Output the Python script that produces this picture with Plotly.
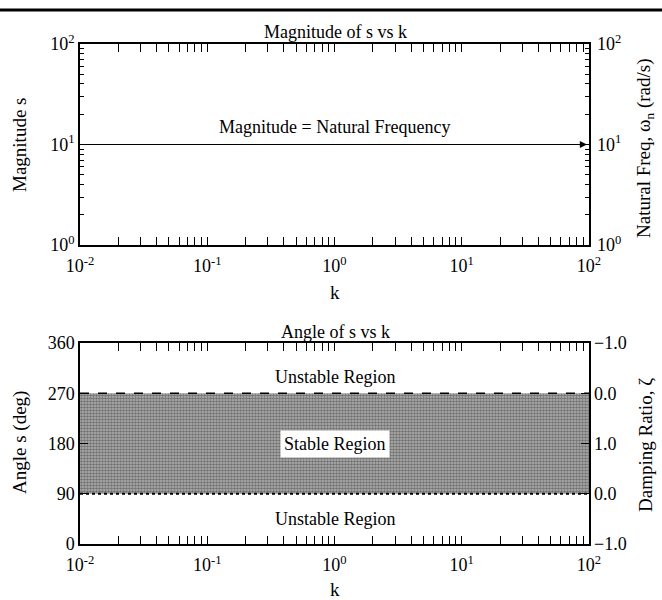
import numpy as np
import plotly.graph_objects as go

# ---- data ----
k_range = [0.01, 100]            # gain k sweep (log scale)
magnitude = [10, 10]             # |s| equals the natural frequency
stable_low = [90, 90]            # angle bounds of the stable region (deg)
stable_high = [270, 270]
mag_ticks = [1, 10, 100]
mag_ticktext = ["10<sup>0</sup>", "10<sup>1</sup>", "10<sup>2</sup>"]
k_ticks = [0.01, 0.1, 1, 10, 100]
k_ticktext = ["10<sup>-2</sup>", "10<sup>-1</sup>", "10<sup>0</sup>", "10<sup>1</sup>", "10<sup>2</sup>"]
angle_ticks = [0, 90, 180, 270, 360]
zeta_ticktext = ["\u22121.0", "0.0", "1.0", "0.0", "\u22121.0"]


def log_minor(lo_exp, hi_exp):
    return [m * 10.0 ** e for e in range(lo_exp, hi_exp) for m in range(2, 10)]


FONT = "Liberation Serif"
fs = 18

fig = go.Figure()

# top panel: magnitude line
fig.add_trace(go.Scatter(x=k_range, y=magnitude, mode="lines",
                         line=dict(color="black", width=1.2),
                         xaxis="x", yaxis="y", showlegend=False))

# bottom panel: shaded stable band
band_x = k_range + k_range[::-1]
band_y = stable_low + stable_high[::-1]
fig.add_trace(go.Scatter(x=band_x, y=band_y, fill="toself", mode="none",
                         fillcolor="rgba(0,0,0,0)",
                         fillpattern=dict(shape=".", fgcolor="#303030", bgcolor="#b4b4b4",
                                          size=3, solidity=0.6),
                         xaxis="x2", yaxis="y3", showlegend=False, hoverinfo="skip"))
fig.add_trace(go.Scatter(x=k_range, y=stable_high, mode="lines",
                         line=dict(color="black", width=1.5, dash="dash"),
                         xaxis="x2", yaxis="y3", showlegend=False))
fig.add_trace(go.Scatter(x=k_range, y=stable_low, mode="lines",
                         line=dict(color="black", width=2, dash="dot"),
                         xaxis="x2", yaxis="y3", showlegend=False))

top_dom = [0.598, 1.0]
bot_dom = [0.0, 0.402]

xminor = dict(tickmode="array", tickvals=log_minor(-2, 2), ticks="inside", ticklen=4,
              tickcolor="black", showgrid=False)
yminor = dict(tickmode="array", tickvals=log_minor(0, 2), ticks="inside", ticklen=4,
              tickcolor="black", showgrid=False)

xcommon = dict(type="log", range=[-2, 2], tickvals=k_ticks, ticktext=k_ticktext,
               ticks="inside", ticklen=8, tickcolor="black", showgrid=False,
               showline=True, linecolor="black", linewidth=1.5, mirror="allticks",
               minor=xminor, ticklabelstandoff=4,
               tickfont=dict(family=FONT, size=fs, color="black"), zeroline=False)

ycommon = dict(ticks="inside", ticklen=8, tickcolor="black", showgrid=False,
               showline=True, linecolor="black", linewidth=1.5, mirror="allticks",
               tickfont=dict(family=FONT, size=fs, color="black"), zeroline=False)

fig.update_layout(
    width=662, height=600,
    margin=dict(l=80, r=73, t=44, b=56),
    paper_bgcolor="white", plot_bgcolor="white",
    font=dict(family=FONT, size=fs, color="black"),
    xaxis=dict(**xcommon, domain=[0, 1], anchor="y"),
    yaxis=dict(**ycommon, type="log", range=[0, 2], domain=top_dom, anchor="x",
               tickvals=mag_ticks, ticktext=mag_ticktext, minor=yminor),
    yaxis2=dict(type="log", range=[0, 2], domain=top_dom, anchor="x", overlaying="y",
                side="right", tickvals=mag_ticks, ticktext=mag_ticktext, ticks="",
                showgrid=False, showline=False, zeroline=False, ticklabelstandoff=7,
                tickfont=dict(family=FONT, size=fs, color="black")),
    xaxis2=dict(**xcommon, domain=[0, 1], anchor="y3"),
    yaxis3=dict(**ycommon, range=[0, 360], domain=bot_dom, anchor="x2",
                tickvals=angle_ticks),
    yaxis4=dict(range=[0, 360], domain=bot_dom, anchor="x2", overlaying="y3",
                side="right", tickvals=angle_ticks, ticktext=zeta_ticktext, ticks="",
                showgrid=False, showline=False, zeroline=False, ticklabelstandoff=4,
                tickfont=dict(family=FONT, size=fs, color="black")),
)

# invisible traces so the right-hand axes render
fig.add_trace(go.Scatter(x=k_range, y=magnitude, mode="lines", line=dict(width=0),
                         xaxis="x", yaxis="y2", showlegend=False, hoverinfo="skip"))
fig.add_trace(go.Scatter(x=k_range, y=stable_low, mode="lines", line=dict(width=0),
                         xaxis="x2", yaxis="y4", showlegend=False, hoverinfo="skip"))

PW = 509.0   # plot width in px
PH = 500.0   # plot height in px


def px_x(p):
    return (p - 80) / PW


def px_y(p):
    return (544 - p) / PH


def label(x, y, text, size=fs, angle=0):
    return dict(x=px_x(x), y=px_y(y), xref="paper", yref="paper", text=text,
                textangle=angle, showarrow=False, xanchor="center", yanchor="middle",
                font=dict(family=FONT, size=size))


ann = []
# arrowhead at the right end of the magnitude line
ann.append(dict(x=np.log10(k_range[1]), y=np.log10(magnitude[1]), xref="x", yref="y",
                ax=-30, ay=0, text="", showarrow=True, arrowhead=2, arrowsize=1.2,
                arrowwidth=1.2, arrowcolor="black", standoff=2))
ann.append(dict(x=0, y=np.log10(magnitude[0]), xref="x", yref="y", yshift=18,
                text="Magnitude = Natural Frequency", showarrow=False,
                font=dict(family=FONT, size=fs)))
ann.append(dict(x=0, y=300, xref="x2", yref="y3", text="Unstable Region",
                showarrow=False, font=dict(family=FONT, size=fs)))
ann.append(dict(x=0, y=180, xref="x2", yref="y3", text="Stable Region",
                showarrow=False, bgcolor="white", borderpad=3,
                font=dict(family=FONT, size=fs)))
ann.append(dict(x=0, y=44, xref="x2", yref="y3", text="Unstable Region",
                showarrow=False, font=dict(family=FONT, size=fs)))
# panel titles
ann.append(label(335, 32, "Magnitude of s vs k"))
ann.append(label(335, 332, "Angle of s vs k"))
# axis titles
ann.append(label(335, 292, "k", fs + 1))
ann.append(label(335, 589, "k", fs + 1))
ann.append(label(20, 145, "Magnitude s", fs + 1, -90))
ann.append(label(20, 443, "Angle s (deg)", fs + 1, -90))
ann.append(label(645, 148, "Natural Freq, \u03c9<sub>n</sub> (rad/s)", fs + 1, -90))
ann.append(label(645, 445, "Damping Ratio, \u03b6", fs + 1, -90))
fig.update_layout(annotations=ann)

# heavy rule across the top of the page
fig.add_shape(type="line", xref="paper", yref="paper",
              x0=px_x(0), x1=px_x(662), y0=px_y(10), y1=px_y(10),
              line=dict(color="black", width=3))

fig.write_html("out.html")
